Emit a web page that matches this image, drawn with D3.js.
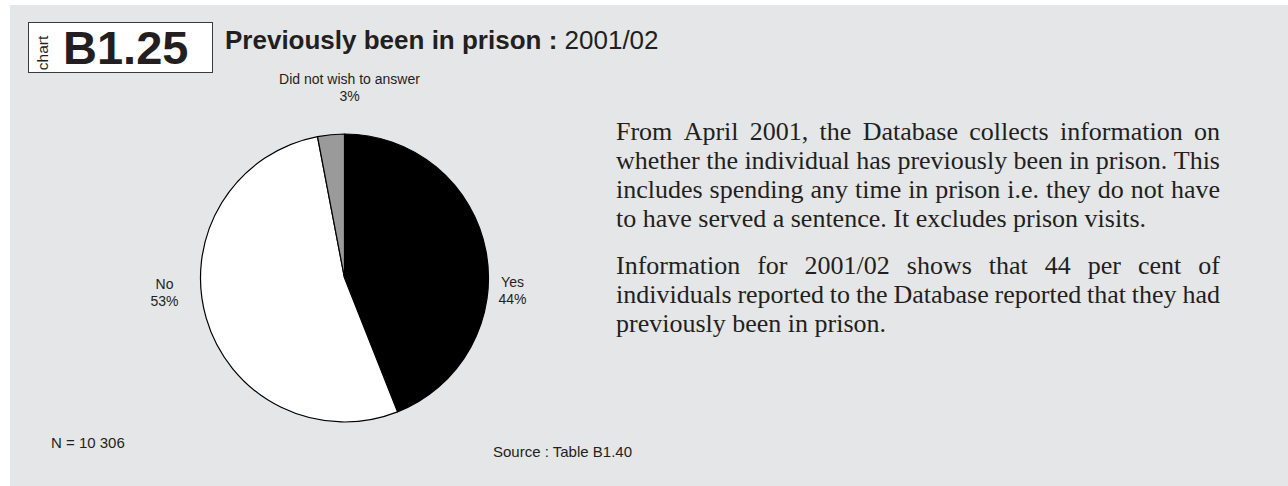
<!DOCTYPE html>
<html>
<head>
<meta charset="utf-8">
<script src="https://cdn.jsdelivr.net/npm/d3@7"></script>
<style>
html,body{margin:0;padding:0;background:#ffffff;}
svg{display:block;}
</style>
</head>
<body>
<svg id="chart" width="1288" height="486"></svg>
<script>
// ---- data ----
const categories = ["Yes", "No", "Did not wish to answer"];
const values = [44, 53, 3];
const sliceColors = ["#000000", "#ffffff", "#9a9a9a"];
const chartNumber = "B1.25";
const titleBold = "Previously been in prison :";
const titleYear = " 2001/02";
const sampleNote = "N = 10 306";
const sourceNote = "Source : Table B1.40";
const paragraph1 = [
  "From April 2001, the Database collects information on",
  "whether the individual has previously been in prison. This",
  "includes spending any time in prison i.e. they do not have",
  "to have served a sentence. It excludes prison visits."
];
const paragraph2 = [
  "Information for 2001/02 shows that 44 per cent of",
  "individuals reported to the Database reported that they had",
  "previously been in prison."
];

// ---- drawing ----
const svg = d3.select("#chart");
const ink = "#231f20";
const sans = "Liberation Sans, Arial, Helvetica, sans-serif";
const serif = "Liberation Serif, Times New Roman, serif";

svg.append("rect").attr("x", 10).attr("y", 5).attr("width", 1278).attr("height", 481)
  .attr("fill", "#e5e6e8");

// header box
svg.append("rect").attr("x", 28.5).attr("y", 22.5).attr("width", 184).attr("height", 50)
  .attr("fill", "#ffffff").attr("stroke", "#3a3a3a").attr("stroke-width", 1);
svg.append("text").attr("transform", "translate(48,53) rotate(-90)")
  .attr("text-anchor", "middle").attr("font-family", sans).attr("font-size", 15.5)
  .attr("fill", ink).text("chart");
svg.append("text").attr("x", 63).attr("y", 64).attr("font-family", sans)
  .attr("font-size", 47).attr("font-weight", "bold").attr("fill", ink).text(chartNumber);

const title = svg.append("text").attr("x", 225).attr("y", 48.5).attr("font-family", sans)
  .attr("font-size", 26).attr("fill", ink);
title.append("tspan").attr("font-weight", "bold").text(titleBold);
title.append("tspan").text(titleYear);

// pie
const cx = 344.5, cy = 278, radius = 144;
const color = d3.scaleOrdinal().domain(categories).range(sliceColors);
const pie = d3.pie().sort(null).value(d => d.value);
const arcGen = d3.arc().innerRadius(0).outerRadius(radius);
const data = categories.map((c, i) => ({ cat: c, value: values[i] }));
const arcs = pie(data);
const g = svg.append("g").attr("transform", `translate(${cx},${cy})`);
g.selectAll("path").data(arcs).enter().append("path")
  .attr("d", arcGen)
  .attr("fill", d => color(d.data.cat))
  .attr("stroke", "#000").attr("stroke-width", 1.2).attr("stroke-linejoin", "round");

// labels
const fmt = d => d3.format(".0f")(d.data.value) + "%";
arcs.forEach(d => {
  const mid = (d.startAngle + d.endAngle) / 2;
  const s = Math.sin(mid);
  let lx, ly, anchor = "middle";
  if (Math.abs(s) < 0.3) {           // top slice: label above pie
    lx = 5; ly = -radius - 50;
  } else if (s > 0) {                 // right side
    lx = radius + 24; ly = 9;
  } else {                            // left side
    lx = -radius - 36; ly = 11;
  }
  const t = g.append("text").attr("text-anchor", anchor)
    .attr("font-family", sans).attr("font-size", 14).attr("fill", ink);
  t.append("tspan").attr("x", lx).attr("y", ly).text(d.data.cat);
  t.append("tspan").attr("x", lx).attr("y", ly + 16.5).text(fmt(d));
});

// footer notes
svg.append("text").attr("x", 51).attr("y", 448).attr("font-family", sans)
  .attr("font-size", 15).attr("fill", ink).text(sampleNote);
svg.append("text").attr("x", 493).attr("y", 456.5).attr("font-family", sans)
  .attr("font-size", 15).attr("fill", ink).text(sourceNote);

// justified body text
const bodyX = 616, bodyW = 604, fs = 26, lh = 29.3;
function drawParagraph(lines, y0) {
  lines.forEach((line, li) => {
    const y = y0 + li * lh;
    const words = line.split(" ");
    const last = li === lines.length - 1;
    const tg = svg.append("g");
    const nodes = words.map(w => tg.append("text").attr("y", y)
      .attr("font-family", serif).attr("font-size", fs).attr("fill", ink).text(w));
    const widths = nodes.map(n => n.node().getComputedTextLength());
    const total = d3.sum(widths);
    const spaceW = fs * 0.25;
    let gap = last ? spaceW : (bodyW - total) / (words.length - 1);
    let x = bodyX;
    nodes.forEach((n, i) => { n.attr("x", x); x += widths[i] + gap; });
  });
}
drawParagraph(paragraph1, 139.5);
drawParagraph(paragraph2, 273.5);
</script>
</body>
</html>
